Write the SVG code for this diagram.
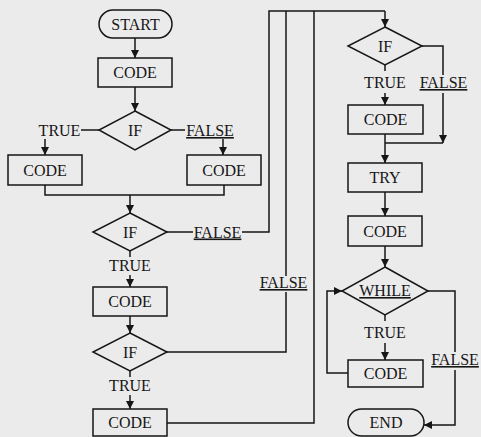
<svg xmlns="http://www.w3.org/2000/svg" width="481" height="437" viewBox="0 0 481 437">
<style>
.s{fill:none;stroke:#161616;stroke-width:1.5}
.t{font-family:"Liberation Serif","Times New Roman",serif;font-size:16px;fill:#161616;text-anchor:middle}
.u{text-decoration:underline}
.c{fill:none;stroke:#161616;stroke-width:1.5}
</style>
<defs>
<marker id="ah" viewBox="0 0 10 10" refX="10" refY="5" markerWidth="8" markerHeight="8" markerUnits="userSpaceOnUse" orient="auto">
<path d="M0,0 L10,5 L0,10 Z" fill="#161616"/>
</marker>
</defs>
<rect width="481" height="437" fill="#ebebec"/>

<g id="connectors">
<line class="c" x1="135" y1="38" x2="135" y2="58" marker-end="url(#ah)"/>
<line class="c" x1="135" y1="87" x2="135" y2="111" marker-end="url(#ah)"/>
<line class="c" x1="81" y1="130" x2="99" y2="130"/>
<line class="c" x1="171" y1="130" x2="185" y2="130"/>
<line class="c" x1="45" y1="139" x2="45" y2="155" marker-end="url(#ah)"/>
<line class="c" x1="223" y1="139" x2="223" y2="155" marker-end="url(#ah)"/>
<polyline class="c" points="45,185 45,195 224,195 224,185"/>
<line class="c" x1="130" y1="195" x2="130" y2="213" marker-end="url(#ah)"/>
<line class="c" x1="167" y1="232" x2="193" y2="232"/>
<polyline class="c" points="242,232 269,232 269,11 385,11"/>
<line class="c" x1="385" y1="11" x2="385" y2="27" marker-end="url(#ah)"/>
<line class="c" x1="130" y1="251" x2="130" y2="257"/>
<line class="c" x1="130" y1="275" x2="130" y2="287" marker-end="url(#ah)"/>
<line class="c" x1="130" y1="316" x2="130" y2="333" marker-end="url(#ah)"/>
<polyline class="c" points="167,352 286,352 286,292"/>
<line class="c" x1="286" y1="276" x2="286" y2="11"/>
<line class="c" x1="130" y1="371" x2="130" y2="377"/>
<line class="c" x1="130" y1="395" x2="130" y2="409" marker-end="url(#ah)"/>
<polyline class="c" points="167,423 314,423 314,11"/>
<line class="c" x1="385" y1="65" x2="385" y2="71"/>
<line class="c" x1="385" y1="93" x2="385" y2="105" marker-end="url(#ah)"/>
<polyline class="c" points="422,46 443,46 443,75"/>
<line class="c" x1="443" y1="93" x2="443" y2="143" marker-end="url(#ah)"/>
<line class="c" x1="385" y1="143" x2="443" y2="143"/>
<line class="c" x1="385" y1="134" x2="385" y2="163" marker-end="url(#ah)"/>
<line class="c" x1="385" y1="192" x2="385" y2="216" marker-end="url(#ah)"/>
<line class="c" x1="385" y1="246" x2="385" y2="267" marker-end="url(#ah)"/>
<line class="c" x1="385" y1="315" x2="385" y2="321"/>
<line class="c" x1="385" y1="343" x2="385" y2="360" marker-end="url(#ah)"/>
<polyline class="c" points="348,373 327,373 327,291 342,291" marker-end="url(#ah)"/>
<polyline class="c" points="428,291 455,291 455,352"/>
<polyline class="c" points="455,370 455,425 424,425" marker-end="url(#ah)"/>
</g>

<g id="start"><rect class="s" x="99" y="10" width="73" height="28" rx="14"/><text class="t" x="135.5" y="29.5">START</text></g>
<g id="code1"><rect class="s" x="98" y="58" width="74" height="29"/><text class="t" x="135" y="78">CODE</text></g>
<g id="if1"><polygon class="s" points="135,111 171,130 135,150 99,130"/><text class="t" x="135" y="135.5">IF</text></g>
<g id="true1"><text class="t" x="59.5" y="136">TRUE</text></g>
<g id="false1"><text class="t u" x="210" y="136">FALSE</text></g>
<g id="code2"><rect class="s" x="8" y="155" width="74" height="30"/><text class="t" x="45" y="175.5">CODE</text></g>
<g id="code3"><rect class="s" x="187" y="155" width="74" height="30"/><text class="t" x="224" y="175.5">CODE</text></g>
<g id="if2"><polygon class="s" points="130,213 167,232 130,251 93,232"/><text class="t" x="130" y="237.5">IF</text></g>
<g id="false2"><text class="t u" x="217.5" y="237.5">FALSE</text></g>
<g id="true2"><text class="t" x="130" y="271">TRUE</text></g>
<g id="code4"><rect class="s" x="93" y="287" width="74" height="29"/><text class="t" x="130" y="307">CODE</text></g>
<g id="if3"><polygon class="s" points="130,333 167,352 130,371 93,352"/><text class="t" x="130" y="357.5">IF</text></g>
<g id="true3"><text class="t" x="130" y="391">TRUE</text></g>
<g id="code5"><rect class="s" x="93" y="409" width="74" height="27"/><text class="t" x="130" y="428">CODE</text></g>
<g id="false3"><text class="t u" x="283.5" y="288">FALSE</text></g>

<g id="if4"><polygon class="s" points="385,27 422,46 385,65 348,46"/><text class="t" x="385" y="51.5">IF</text></g>
<g id="true4"><text class="t" x="385" y="88">TRUE</text></g>
<g id="false4"><text class="t u" x="443.5" y="88">FALSE</text></g>
<g id="code6"><rect class="s" x="348" y="105" width="75" height="29"/><text class="t" x="385.5" y="125">CODE</text></g>
<g id="try"><rect class="s" x="348" y="163" width="74" height="29"/><text class="t" x="385" y="183">TRY</text></g>
<g id="code7"><rect class="s" x="348" y="216" width="74" height="30"/><text class="t" x="385" y="236.5">CODE</text></g>
<g id="while"><polygon class="s" points="385,267 428,291 385,315 342,291"/><text class="t u" x="385" y="296">WHILE</text></g>
<g id="true5"><text class="t" x="385" y="338">TRUE</text></g>
<g id="code8"><rect class="s" x="348" y="360" width="75" height="27"/><text class="t" x="385.5" y="379">CODE</text></g>
<g id="false5"><text class="t u" x="455" y="365">FALSE</text></g>
<g id="end"><rect class="s" x="348" y="409" width="76" height="27" rx="13.5"/><text class="t" x="386" y="428">END</text></g>
</svg>
